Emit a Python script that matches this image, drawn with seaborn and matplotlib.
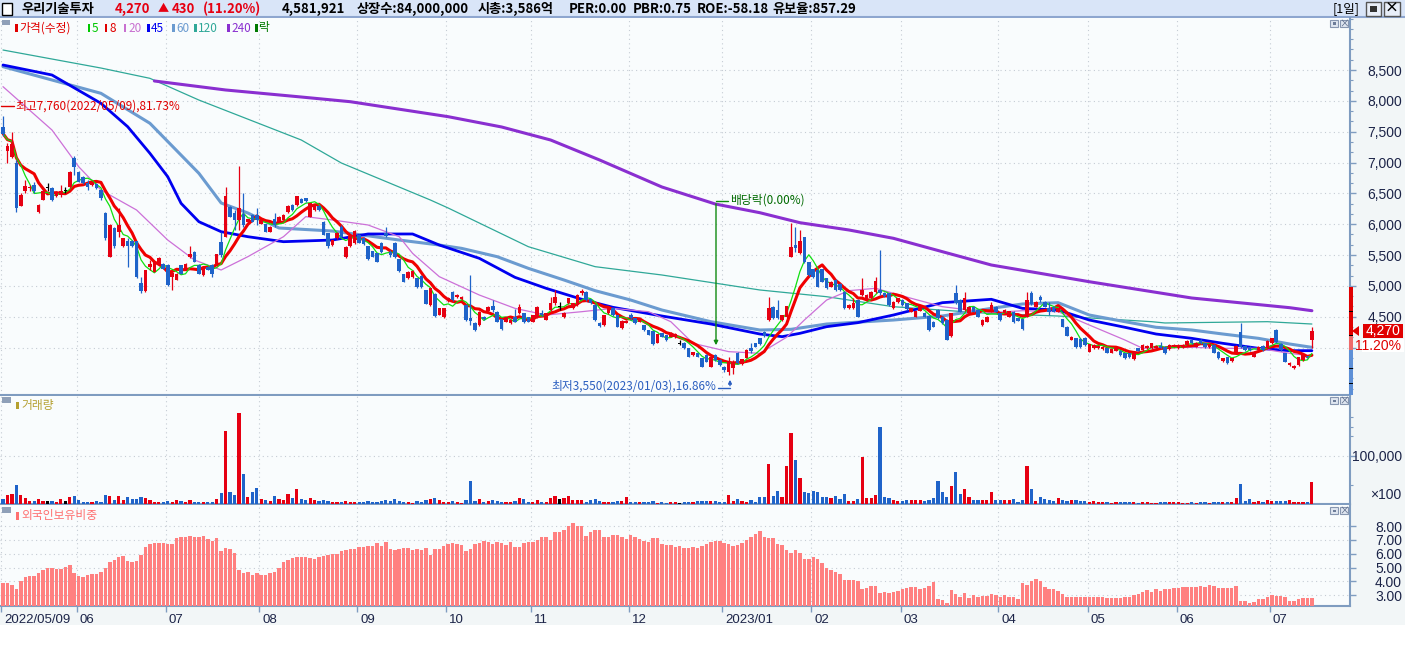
import numpy as np
import pandas as pd
import matplotlib
matplotlib.use("Agg")
import matplotlib.pyplot as plt
import matplotlib.transforms as mtransforms
from matplotlib.patches import Rectangle, Polygon
from matplotlib.ticker import AutoMinorLocator, FixedLocator
import seaborn as sns

sns.set_theme(style="white")
plt.rcParams['font.family'] = ['Noto Sans CJK KR', 'DejaVu Sans']
plt.rcParams['axes.unicode_minus'] = False

NUMFONT = ['Liberation Sans', 'DejaVu Sans']

W, H = 1405, 648

# ---------------- daily data (2022/05/09 .. 2023/07/14, trading days) ----------------
opens = [7570, 7190, 7090, 6990, 6300, 6540, 6580, 6640, 6190, 6400,
         6600, 6580, 6450, 6470, 6550, 6600, 7070, 6850, 6760, 6670,
         6640, 6650, 6550, 6180, 5470, 5930, 5880, 5640, 5720, 5720,
         5720, 5040, 4910, 5310, 5230, 5340, 5360, 5340, 5150, 5100,
         5330, 5260, 5470, 5550, 5340, 5170, 5310, 5340, 5330, 5710,
         5800, 6280, 6180, 6070, 6170, 6030, 6150, 6150, 6010, 6000,
         5880, 6090, 6040, 6070, 6190, 6310, 6310, 6410, 6420, 6120,
         6230, 6300, 6040, 5850, 5660, 5770, 5960, 5460, 5640, 5690,
         5820, 5770, 5640, 5560, 5530, 5690, 5850, 5550, 5690, 5430,
         5190, 5120, 5140, 5120, 5160, 4930, 4690, 4870, 4530, 4490,
         4770, 4905, 4815, 4780, 4690, 4475, 4405, 4365, 4500, 4590,
         4675, 4580, 4455, 4420, 4405, 4500, 4555, 4555, 4490, 4420,
         4490, 4565, 4445, 4610, 4715, 4660, 4490, 4715, 4635, 4690,
         4880, 4905, 4780, 4690, 4405, 4365, 4555, 4635, 4525, 4310,
         4405, 4525, 4475, 4420, 4365, 4285, 4270, 4080, 4230, 4205,
         4175, 4165, 4070, 4080, 3985, 3880, 3905, 3825, 3880, 3690,
         3880, 3795, 3690, 3610, 3660, 3915, 3735, 3835, 3985, 4070,
         4150, 4255, 4445, 4660, 4610, 4445, 4490, 5470, 5660, 5530,
         5790, 5380, 5270, 5260, 5270, 5120, 4985, 5090, 5030, 4905,
         4635, 4635, 4770, 4850, 4770, 4795, 4905, 4930, 4890, 4880,
         4635, 4745, 4770, 4715, 4580, 4500, 4595, 4565, 4510, 4420,
         4610, 4500, 4445, 4185, 4880, 4770, 4610, 4555, 4660, 4610,
         4365, 4420, 4580, 4660, 4555, 4555, 4500, 4580, 4475, 4455,
         4500, 4890, 4660, 4825, 4745, 4635, 4660, 4580, 4455, 4340,
         4130, 4150, 4145, 4150, 3930, 3985, 3985, 3970, 3985, 3915,
         3950, 3945, 3905, 3905, 3820, 3985, 3960, 3985, 3985, 3985,
         4025, 4015, 3970, 4015, 3985, 4005, 4040, 4120, 4015, 4130,
         4070, 4005, 4040, 3930, 3785, 3840, 3785, 3930, 4250, 4025,
         4015, 3850, 3960, 4025, 3985, 4070, 4285, 4055, 3905, 3715,
         3660, 3715, 3795, 3860, 4130]
highs = [7760, 7310, 7500, 7040, 6500, 6720, 6640, 6690, 6320, 6580,
         6670, 6600, 6530, 6630, 6610, 6870, 7100, 6870, 6780, 6720,
         6700, 6670, 6560, 6190, 6000, 5950, 6260, 5780, 5770, 5740,
         5730, 5150, 5260, 5420, 5400, 5460, 5370, 5350, 5220, 5210,
         5340, 5370, 5640, 5560, 5350, 5320, 5320, 5350, 5520, 5880,
         6600, 6290, 6230, 6940, 6500, 6090, 6160, 6260, 6080, 6010,
         5970, 6175, 6130, 6160, 6310, 6320, 6460, 6420, 6430, 6350,
         6320, 6310, 6050, 5860, 5750, 5870, 5985, 5640, 5820, 5900,
         5840, 5800, 5650, 5570, 5540, 5715, 5950, 5580, 5715, 5440,
         5200, 5240, 5250, 5130, 5170, 4940, 4970, 4880, 4640, 4645,
         4825, 4920, 4870, 4840, 4700, 5175, 4410, 4590, 4510, 4670,
         4770, 4590, 4465, 4495, 4455, 4620, 4705, 4565, 4500, 4535,
         4670, 4610, 4565, 4825, 4935, 4745, 4575, 4805, 4725, 4860,
         4945, 4915, 4790, 4700, 4410, 4535, 4660, 4645, 4535, 4445,
         4445, 4555, 4480, 4480, 4370, 4290, 4275, 4225, 4240, 4210,
         4250, 4230, 4120, 4090, 3995, 3935, 3915, 3835, 3890, 3860,
         3890, 3810, 3700, 3850, 3795, 3930, 3820, 3970, 4070, 4080,
         4160, 4270, 4825, 4675, 4770, 4535, 4680, 6015, 5960, 5905,
         5800, 5390, 5280, 5270, 5280, 5135, 5080, 5105, 5040, 4915,
         4700, 4795, 4780, 5120, 4860, 4915, 5150, 5580, 4900, 4890,
         4755, 4810, 4780, 4725, 4645, 4600, 4685, 4575, 4520, 4430,
         4620, 4510, 4455, 4565, 5015, 4780, 4905, 4675, 4675, 4620,
         4455, 4510, 4745, 4675, 4565, 4620, 4600, 4590, 4485, 4470,
         4905, 4920, 4755, 4850, 4755, 4745, 4675, 4645, 4470, 4350,
         4185, 4160, 4155, 4175, 4065, 4050, 4035, 4025, 3995, 3980,
         3995, 3955, 3915, 3915, 3940, 3995, 4050, 4035, 4080, 4035,
         4095, 4025, 4050, 4050, 4050, 4050, 4120, 4130, 4090, 4145,
         4080, 4065, 4050, 3940, 3835, 3850, 3835, 4035, 4390, 4035,
         4025, 3940, 4025, 4035, 4120, 4160, 4295, 4070, 3915, 3770,
         3710, 3850, 3890, 3870, 4330]
lows = [7430, 6990, 7070, 6200, 6290, 6500, 6530, 6500, 6180, 6390,
        6530, 6380, 6440, 6440, 6500, 6580, 6800, 6680, 6650, 6550,
        6620, 6570, 6400, 5750, 5460, 5620, 5800, 5630, 5310, 5630,
        5130, 4890, 4900, 5260, 5220, 5330, 5270, 5000, 4930, 5090,
        5190, 5250, 5450, 5380, 5190, 5160, 5250, 5140, 5320, 5470,
        5790, 6110, 5900, 5900, 5960, 6020, 6030, 5990, 6000, 5870,
        5870, 5960, 6030, 6060, 6180, 6220, 6300, 6340, 6360, 6110,
        6220, 6220, 5820, 5620, 5650, 5760, 5785, 5450, 5625, 5680,
        5690, 5670, 5420, 5460, 5380, 5540, 5795, 5475, 5445, 5230,
        5060, 5110, 5130, 4965, 4960, 4700, 4680, 4500, 4520, 4480,
        4745, 4760, 4800, 4770, 4430, 4365, 4270, 4355, 4450, 4585,
        4580, 4410, 4290, 4410, 4380, 4410, 4545, 4400, 4410, 4410,
        4480, 4515, 4440, 4600, 4690, 4610, 4480, 4705, 4625, 4680,
        4850, 4760, 4705, 4435, 4340, 4355, 4545, 4515, 4325, 4300,
        4395, 4445, 4385, 4410, 4275, 4195, 4045, 4070, 4165, 4110,
        4165, 4155, 4040, 3975, 3840, 3870, 3840, 3680, 3760, 3680,
        3785, 3705, 3610, 3550, 3570, 3730, 3720, 3825, 3905, 4005,
        4045, 4175, 4430, 4460, 4455, 4435, 4480, 5460, 5555, 5515,
        5365, 5165, 5125, 4975, 5055, 4950, 4975, 4920, 4920, 4620,
        4625, 4625, 4490, 4840, 4760, 4785, 4880, 4850, 4825, 4675,
        4625, 4730, 4675, 4605, 4570, 4490, 4585, 4490, 4270, 4325,
        4460, 4380, 4120, 4175, 4705, 4570, 4595, 4545, 4570, 4490,
        4355, 4410, 4570, 4570, 4435, 4545, 4490, 4405, 4425, 4285,
        4490, 4695, 4650, 4745, 4650, 4525, 4570, 4570, 4325, 4180,
        4120, 3990, 3990, 4025, 3920, 3975, 3975, 3960, 3905, 3905,
        3940, 3865, 3810, 3830, 3805, 3940, 3950, 3975, 3975, 3975,
        3975, 3895, 3960, 4005, 3975, 3995, 4030, 4055, 4005, 4065,
        3990, 3990, 3905, 3810, 3770, 3740, 3770, 3920, 3985, 3945,
        3945, 3840, 3945, 3945, 3975, 4055, 4080, 3945, 3760, 3700,
        3650, 3705, 3785, 3830, 3990]
closes = [7470, 7270, 7300, 6270, 6470, 6620, 6600, 6530, 6310, 6530,
          6600, 6390, 6510, 6530, 6550, 6850, 6930, 6690, 6660, 6600,
          6690, 6580, 6420, 5770, 5990, 5640, 5990, 5770, 5640, 5640,
          5150, 4910, 5250, 5360, 5390, 5450, 5280, 5010, 5210, 5200,
          5200, 5360, 5510, 5390, 5200, 5310, 5260, 5200, 5510, 5500,
          6450, 6120, 6070, 6260, 5990, 6080, 6040, 6070, 6070, 5880,
          5960, 5990, 6120, 6150, 6300, 6230, 6450, 6350, 6370, 6340,
          6310, 6230, 5830, 5640, 5740, 5860, 5800, 5635, 5810, 5890,
          5700, 5680, 5430, 5470, 5390, 5555, 5810, 5500, 5460, 5245,
          5070, 5230, 5240, 4975, 4975, 4705, 4960, 4515, 4635, 4635,
          4795, 4770, 4850, 4825, 4445, 4435, 4285, 4580, 4455, 4660,
          4610, 4420, 4300, 4490, 4445, 4420, 4660, 4410, 4420, 4525,
          4660, 4525, 4555, 4715, 4815, 4660, 4565, 4795, 4715, 4850,
          4915, 4770, 4715, 4445, 4350, 4525, 4650, 4525, 4340, 4435,
          4435, 4475, 4390, 4475, 4285, 4205, 4055, 4220, 4175, 4120,
          4240, 4220, 4070, 3985, 3850, 3920, 3850, 3690, 3770, 3850,
          3795, 3715, 3635, 3770, 3770, 3745, 3810, 3960, 3945, 4015,
          4055, 4185, 4635, 4475, 4475, 4525, 4675, 5630, 5610, 5720,
          5380, 5180, 5140, 4985, 5070, 4960, 5070, 4930, 4930, 4635,
          4690, 4715, 4500, 4930, 4850, 4905, 5085, 4880, 4835, 4690,
          4745, 4795, 4690, 4620, 4635, 4590, 4675, 4500, 4285, 4340,
          4475, 4390, 4130, 4555, 4715, 4580, 4795, 4660, 4580, 4500,
          4445, 4500, 4690, 4580, 4445, 4610, 4590, 4420, 4435, 4295,
          4770, 4705, 4745, 4770, 4660, 4580, 4580, 4635, 4340, 4190,
          4175, 4005, 4005, 4040, 4055, 4040, 4025, 4015, 3915, 3970,
          3985, 3880, 3825, 3840, 3930, 3950, 4040, 4025, 4070, 4025,
          3985, 3905, 4040, 4040, 4040, 4040, 4110, 4070, 4080, 4080,
          4005, 4055, 3915, 3825, 3825, 3755, 3825, 4025, 4015, 3960,
          3960, 3930, 4015, 3960, 4110, 4150, 4095, 3960, 3770, 3745,
          3700, 3840, 3880, 3840, 4270]
# volume in units of 100 shares
volume = [10400, 18600, 20700, 39300, 18600, 12400, 6200, 6200, 10400, 6200,
          6200, 6200, 4100, 10400, 6200, 14500, 16600, 8300, 4100, 4100,
          4100, 6200, 4100, 18600, 16600, 8300, 16600, 8300, 14500, 10400,
          10400, 14500, 12400, 8300, 4100, 4100, 4100, 6200, 4100, 8300,
          6200, 4100, 8300, 4100, 4100, 4100, 4100, 4100, 10400, 22800,
          151100, 24800, 18600, 188400, 62100, 14500, 24800, 33100, 10400, 8300,
          6200, 16600, 10400, 8300, 20700, 12400, 31100, 10400, 8300, 12400,
          8300, 6200, 8300, 6200, 4100, 4100, 4100, 6200, 4100, 4100,
          4100, 4100, 6200, 4100, 4100, 6200, 8300, 6200, 10400, 6200,
          4100, 4100, 2100, 6200, 4100, 8300, 10400, 12400, 8300, 4100,
          4100, 6200, 4100, 2100, 8300, 47600, 6200, 10400, 4100, 6200,
          8300, 6200, 4100, 4100, 4100, 6200, 12400, 10400, 4100, 4100,
          8300, 4100, 4100, 12400, 16600, 10400, 12400, 16600, 8300, 8300,
          8300, 4100, 8300, 10400, 6200, 4100, 4100, 4100, 6200, 6200,
          14500, 4100, 4100, 4100, 4100, 4100, 6200, 2100, 4100, 2100,
          4100, 4100, 2100, 4100, 4100, 4100, 6200,
          6200, 6200, 6200, 6200, 4100, 4100, 18600, 6200, 10400, 6200,
          4100, 8300, 4100, 14500, 14500, 82800, 16600, 26900, 14500, 78700,
          147000, 91100, 53800, 24800, 22800, 26900, 24800, 14500, 14500, 12400,
          16600, 10400, 20700, 6200, 6200, 10400, 97300, 12400, 12400, 18600,
          159400, 14500, 12400, 8300, 6200, 6200, 8300, 8300, 8300, 8300,
          6200, 8300, 12400, 47600, 24800, 14500, 37300, 66200, 20700, 31100,
          14500, 8300, 8300, 8300, 8300, 24800, 8300, 8300, 8300, 8300,
          10400, 4100, 8300, 78700,
          31100, 6200, 14500, 10400, 8300, 6200, 12400, 8300, 6200, 8300,
          8300, 6200, 6200, 4100, 6200, 4100, 4100, 4100, 2100, 4100,
          4100,
          4100, 4100, 4100, 2100, 4100, 4100, 2100, 2100, 4100, 4100,
          4100, 4100, 4100, 2100, 2100, 4100, 2100, 4100, 4100, 2100,
          4100, 4100, 4100, 4100, 4100, 12400, 41400, 6200, 10400, 4100,
          6200, 4100, 8300, 6200, 6200, 6200, 6200, 8300, 4100, 4100,
          4100, 4100, 45819]
# foreign ownership ratio (%)
foreign = [3.91, 3.91, 3.75, 3.46, 4.06, 4.35, 4.40, 4.40, 4.64, 4.83,
           4.95, 4.95, 4.90, 4.90, 5.07, 5.19, 4.64, 4.40, 4.30, 4.47,
           4.54, 4.54, 4.68, 4.97, 5.41, 5.55, 5.79, 5.86, 5.50, 5.43,
           5.50, 5.89, 6.51, 6.71, 6.80, 6.80, 6.80, 6.71, 6.71, 7.16,
           7.24, 7.24, 7.28, 7.24, 7.24, 7.31, 7.09, 6.95, 7.14, 6.23,
           6.42, 6.35, 6.03, 4.83, 4.64, 4.71, 4.47, 4.64, 4.47, 4.47,
           4.59, 4.66, 4.95, 5.38, 5.55, 5.72, 5.74, 5.79, 5.79, 5.72,
           5.65, 5.79, 5.84, 5.91, 5.98, 6.01, 6.18, 6.27, 6.37, 6.32,
           6.47, 6.51, 6.59, 6.59, 6.80, 6.59, 6.87, 6.35, 6.27, 6.35,
           6.39, 6.42, 6.27, 6.35, 6.27, 6.39, 5.91, 6.35, 6.35, 6.59,
           6.71, 6.75, 6.73, 6.63, 6.20, 6.37, 6.71, 6.80, 6.92, 6.83,
           6.71, 6.87, 6.78, 6.63, 6.87, 6.49, 6.49, 6.75, 6.83, 6.85,
           7.00, 7.24, 7.24, 7.00, 7.57, 7.60, 7.72, 8.01, 8.20, 8.03,
           8.03, 7.31, 7.55, 7.69, 7.72, 7.21, 7.21, 7.33, 7.33, 7.24,
           7.04, 7.36, 7.24, 7.04, 6.95, 6.87, 7.14, 7.14, 6.68, 6.63,
           6.63, 6.51, 6.59, 6.42, 6.39, 6.47, 6.42,
           6.56, 6.71, 6.87, 6.92, 6.92, 6.80, 6.71, 6.59, 6.63, 6.75,
           7.00, 7.24, 7.43, 7.65, 7.24, 7.16, 7.16, 6.71, 6.63, 6.27,
           6.03, 6.27, 6.03, 5.65, 5.65, 5.79, 5.65, 5.31, 5.00, 4.83,
           4.71, 4.54, 4.11, 4.11, 4.11, 4.03, 3.46, 3.55, 3.67, 3.67,
           3.19, 3.26, 3.19, 3.26, 3.31, 3.43, 3.55, 3.63, 3.58, 3.46,
           3.53, 3.70, 3.96, 2.74, 2.66, 2.42, 3.39, 3.10, 2.88, 3.14,
           2.78, 3.02, 2.90, 2.95, 2.95, 3.10, 3.02, 2.90, 3.02, 2.90,
           2.90, 2.71, 3.91, 3.72, 4.06, 4.18, 4.06, 3.63, 3.46, 3.46,
           3.34, 3.10, 2.90, 2.90, 2.90, 2.90, 2.90, 2.90, 2.90, 2.90,
           2.86, 2.78, 2.78, 2.78, 2.82,
           2.86, 2.86, 3.02, 3.10, 3.26, 3.39, 3.26, 3.43, 3.34, 3.46,
           3.48, 3.53, 3.53, 3.58, 3.58, 3.63, 3.63, 3.67, 3.63, 3.75,
           3.67, 3.51, 3.51, 3.51, 3.51, 3.67, 2.61, 2.61, 2.42, 2.54,
           2.71, 2.71, 2.90, 3.02, 2.98, 2.98, 2.90, 2.61, 2.61, 2.71,
           2.78, 2.78, 2.78]

# longer moving averages (day index, value)
ma20_days = [0, 11, 17, 22, 30, 37, 43, 49, 55, 63, 68, 74, 82, 89, 92, 98, 107, 115, 122, 130,
             137, 145, 150, 155, 163, 170, 176, 180, 185, 190, 196, 204, 211, 222, 229, 237, 244,
             252, 256, 267, 274, 282, 289, 294]
ma20_vals = [8230, 7527, 6932, 6554, 6230, 5743, 5419, 5257, 5473, 5797, 6122, 6068, 5987, 5797,
             5527, 5149, 4851, 4635, 4527, 4581, 4635, 4581, 4419, 4068, 3933, 3906, 4166, 4446,
             4770, 4922, 4960, 4798, 4662, 4565, 4597, 4581, 4365, 4122, 3987, 4003, 3987, 3987,
             3906, 3862]
ma45_days = [0, 11, 22, 28, 33, 37, 40, 44, 49, 55, 63, 74, 82, 92, 98, 107, 115, 122, 130, 137,
             148, 159, 170, 175, 179, 185, 192, 200, 208, 211, 222, 229, 237, 244, 252, 259, 267,
             274, 282, 289, 294]
ma45_vals = [8581, 8419, 7960, 7581, 7149, 6770, 6338, 6040, 5878, 5797, 5716, 5743, 5841, 5841,
             5662, 5446, 5138, 4960, 4782, 4652, 4511, 4381, 4219, 4176, 4230, 4338, 4403, 4527,
             4673, 4727, 4782, 4635, 4608, 4446, 4328, 4219, 4149, 4068, 3987, 3949, 3949]
ma60_days = [0, 22, 33, 44, 49, 55, 62, 74, 89, 98, 103, 111, 118, 126, 133, 141, 148, 159, 170,
             177, 185, 200, 211, 222, 229, 237, 244, 252, 259, 267, 274, 282, 289, 294]
ma60_vals = [8554, 8122, 7636, 6825, 6344, 6181, 5938, 5889, 5743, 5662, 5608, 5473, 5284, 5095,
             4922, 4770, 4608, 4419, 4284, 4295, 4381, 4446, 4511, 4635, 4706, 4727, 4527, 4419,
             4328, 4284, 4219, 4149, 4057, 4003]
ma120_days = [0, 22, 33, 44, 67, 76, 96, 100, 118, 133, 148, 170, 185, 200, 222, 237, 258, 261,
              284, 294]
ma120_vals = [8824, 8532, 8365, 8013, 7365, 6992, 6392, 6262, 5635, 5311, 5176, 4933, 4824, 4662,
              4550, 4511, 4419, 4398, 4419, 4381]
ma240_days = [34, 50, 67, 78, 100, 112, 123, 134, 148, 160, 170, 179, 190, 200, 211, 222, 244, 267,
              289, 294]
ma240_vals = [8322, 8176, 8062, 7986, 7743, 7576, 7365, 7041, 6603, 6327, 6186, 6024, 5906, 5771,
              5554, 5338, 5067, 4803, 4646, 4597]

month_idx = [0, 17, 37, 58, 80, 100, 119, 141, 162, 182, 202, 224, 244, 264, 285]
month_lbl = ['2022/05/09', '06', '07', '08', '09', '10', '11', '12',
             '2023/01', '02', '03', '04', '05', '06', '07']
price_ticks = [4000, 4500, 5000, 5500, 6000, 6500, 7000, 7500, 8000, 8500]
foreign_ticks = [3, 4, 5, 6, 7, 8]

df = pd.DataFrame({'i': np.arange(len(closes)), 'open': opens, 'high': highs,
                   'low': lows, 'close': closes, 'volume': volume, 'foreign': foreign})
df['ma5'] = df['close'].rolling(5, min_periods=1).mean()
df['ma8'] = df['close'].rolling(8, min_periods=1).mean()

# ---------------- styling ----------------
RED = '#e60012'
BLUE = '#1f63c9'
PLOT_BG = '#f9fcfd'
SIDE_BG = '#f2f6f7'
SPINE = '#7f9cc0'
GRID = '#c5ccd4'
TXT = '#1c2448'
HEAD_BG = '#d9e5f8'


def rect(x0, y0, x1, y1):
    return [x0 / W, 1 - y1 / H, (x1 - x0) / W, (y1 - y0) / H]


def px2i(x):
    return (x - 3) / 4.452


def py2p(y):
    return 8500 - (y - 70) * 16.215


def ftext(x, y, s, **kw):
    kw.setdefault('va', 'center')
    return fig.text(x / W, 1 - y / H, s, **kw)


def fbox(x0, y0, x1, y1, **kw):
    fig.add_artist(Rectangle((x0 / W, 1 - y1 / H), (x1 - x0) / W, (y1 - y0) / H,
                             transform=fig.transFigure, **kw))


XL = (px2i(0), px2i(1350))
cols = ['black' if o == c else (RED if c > o else BLUE) for o, c in zip(opens, closes)]

fig = plt.figure(figsize=(W / 100, H / 100), dpi=100)
fig.patch.set_facecolor('white')
fbox(1350, 17, 1405, 625, facecolor=SIDE_BG, edgecolor='none', zorder=0)
fbox(0, 606, 1350, 625, facecolor=SIDE_BG, edgecolor='none', zorder=0)

# ---------------- header ----------------
ax_h = fig.add_axes(rect(0, 0, W, 17))
ax_h.set_facecolor(HEAD_BG)
ax_h.set_xticks([])
ax_h.set_yticks([])
for s in ax_h.spines.values():
    s.set_visible(False)
ax_h.spines['bottom'].set_visible(True)
ax_h.spines['bottom'].set_color('#8ea6cf')
ax_h.spines['bottom'].set_linewidth(1.5)

fbox(2, 3, 12, 15, facecolor='white', edgecolor='black', linewidth=1, zorder=5)
hk = dict(fontsize=9.5, fontweight='bold', zorder=6)
last, prev = closes[-1], closes[-2]
ftext(21, 9, '우리기술투자', color='black', **hk)
ftext(115, 9, f'{last:,}', color=RED, **hk)
ftext(158, 9, '▲', color=RED, fontsize=8, zorder=6)
ftext(172, 9, f'{last - prev:,}', color=RED, **hk)
ftext(203, 9, f'({(last - prev) / prev * 100:.2f}%)', color=RED, **hk)
ftext(282, 9, '4,581,921', color='black', **hk)
ftext(357, 9, '상장수:84,000,000', color='black', **hk)
ftext(478, 9, '시총:3,586억', color='black', **hk)
ftext(569, 9, 'PER:0.00', color='black', **hk)
ftext(633, 9, 'PBR:0.75', color='black', **hk)
ftext(697, 9, 'ROE:-58.18', color='black', **hk)
ftext(772, 9, '유보율:857.29', color='black', **hk)
ftext(1333, 9, '[1일]', color='black', fontsize=9, zorder=6)
fbox(1366, 2, 1381, 16, facecolor='#e8eef8', edgecolor='#555555', linewidth=1, zorder=5)
fbox(1370, 6, 1377, 12, facecolor='#333333', edgecolor='none', zorder=6)
fbox(1384, 2, 1400, 16, facecolor='#e8eef8', edgecolor='#555555', linewidth=1, zorder=5)
ftext(1392, 9, '×', color='black', fontsize=10, fontweight='bold', ha='center', zorder=6)


def panel_buttons(y):
    fbox(1330, y, 1338, y + 7, facecolor='#dfe6f0', edgecolor='#8796b0', linewidth=0.8, zorder=6)
    fbox(1332.5, y + 2.5, 1335.5, y + 4.5, facecolor='#6d7c98', edgecolor='none', zorder=7)
    fbox(1340, y, 1348, y + 7, facecolor='#dfe6f0', edgecolor='#8796b0', linewidth=0.8, zorder=6)
    ftext(1344, y + 3.5, '×', color='#5a6a88', fontsize=7, ha='center', zorder=7)


def style_axes(ax):
    ax.set_facecolor(PLOT_BG)
    ax.set_xlim(XL)
    for k in ['left', 'top']:
        ax.spines[k].set_visible(False)
    for k in ['right', 'bottom']:
        ax.spines[k].set_color(SPINE)
        ax.spines[k].set_linewidth(1.5)
    ax.yaxis.tick_right()
    ax.tick_params(axis='y', which='major', direction='out', length=4.5, width=1,
                   color=SPINE, labelsize=10, labelcolor=TXT, pad=33, right=True, left=False)
    ax.tick_params(axis='y', which='minor', direction='out', length=2.5, width=0.8,
                   color=SPINE, right=True, left=False)
    for m in month_idx:
        ax.axvline(m - 0.4, color=GRID, lw=0.8, ls=(0, (1, 3)), zorder=1)


def right_labels(ax):
    for lab in ax.get_yticklabels():
        lab.set_horizontalalignment('right')
        lab.set_fontfamily(NUMFONT)


# ---------------- price panel ----------------
ax = fig.add_axes(rect(0, 18, 1350, 395))
style_axes(ax)
ax.set_ylim(py2p(395), py2p(18))
for v in price_ticks:
    ax.axhline(v, color=GRID, lw=0.8, ls=(0, (1, 3)), zorder=1)

ma_kw = dict(ax=ax, legend=False, estimator=None, sort=False, zorder=2)
sns.lineplot(x=ma120_days, y=ma120_vals, color='#2fa898', linewidth=0.9, **ma_kw)
sns.lineplot(x=ma240_days, y=ma240_vals, color='#8a2fd0', linewidth=2.2, **ma_kw)
sns.lineplot(x=ma60_days, y=ma60_vals, color='#6b9bd0', linewidth=2.2, **ma_kw)
sns.lineplot(x=ma45_days, y=ma45_vals, color='#0000f0', linewidth=2.0, **ma_kw)
sns.lineplot(x=ma20_days, y=ma20_vals, color='#cc70d8', linewidth=0.9, **ma_kw)
sns.lineplot(data=df, x='i', y='ma8', color='#f00000', linewidth=2.2, **ma_kw)
sns.lineplot(data=df, x='i', y='ma5', color='#10e010', linewidth=0.9, **ma_kw)
ax.set_xlabel('')
ax.set_ylabel('')

body_low = np.minimum(opens, closes)
body_h = np.maximum(np.abs(np.subtract(closes, opens)), 16)
body_low = np.where(np.array(opens) == np.array(closes), body_low - 8, body_low)
ax.vlines(df['i'], lows, highs, colors=cols, linewidth=0.9, zorder=3)
ax.bar(df['i'], body_h, bottom=body_low, width=0.8, color=cols, linewidth=0, zorder=3)

ax.set_xlim(XL)
ax.set_ylim(py2p(395), py2p(18))
ax.set_yticks(price_ticks)
# the 4,000 label sits under the change-rate tag on the reference
ax.set_yticklabels(['' if v == 4000 else f'{v:,}' for v in price_ticks])
ax.yaxis.set_minor_locator(AutoMinorLocator(3))
ax.set_xticks([])
right_labels(ax)

# legend row
fbox(2, 20, 10, 25, facecolor='#8fa0b8', edgecolor='none', zorder=6)
legend_items = [(15, '가격(수정)', '#e00000'), (88, '5', '#00c800'), (105, '8', '#e00000'),
                (124, '20', '#c870d0'), (147, '45', '#0000f0'), (172, '60', '#6b9bd0'),
                (194, '120', '#2fa898'), (227, '240', '#8a2fd0'), (255, '락', '#007a00')]
for x0, lab, c in legend_items:
    fbox(x0, 24, x0 + 2.5, 32, facecolor=c, edgecolor='none', zorder=6)
    ftext(x0 + 4, 28, lab, color=c, fontsize=8.5, zorder=6)
panel_buttons(20)

# high / low / ex-dividend annotations
hi_i = int(np.argmax(highs))
lo_i = int(np.argmin(lows))
ax.plot([px2i(1), px2i(14)], [py2p(106)] * 2, color='#e00000', lw=1, zorder=5)
ax.text(px2i(15), py2p(106), f'최고{highs[hi_i]:,}(2022/05/09),81.73%', color='#e00000',
        fontsize=8.5, va='center', ha='left', zorder=5)
ax.text(px2i(716), py2p(386), f'최저{lows[lo_i]:,}(2023/01/03),16.86%', color='#2c5fc0',
        fontsize=8.5, va='center', ha='right', zorder=5)
ax.plot([px2i(718), px2i(730)], [py2p(388)] * 2, color='#2c5fc0', lw=1, zorder=5)
ax.annotate('', xy=(px2i(730), py2p(377)), xytext=(px2i(730), py2p(388.5)),
            arrowprops=dict(arrowstyle='-|>', color='#2c5fc0', lw=1, mutation_scale=5), zorder=5)
ax.plot([px2i(716), px2i(728)], [py2p(201)] * 2, color='#108a10', lw=1, zorder=5)
ax.annotate('', xy=(px2i(716), py2p(348)), xytext=(px2i(716), py2p(201)),
            arrowprops=dict(arrowstyle='-|>', color='#108a10', lw=1, mutation_scale=6), zorder=5)
ax.text(px2i(730), py2p(200), '배당락(0.00%)', color='#006a00', fontsize=8.5,
        va='center', ha='left', zorder=5)

# side range bar and current price tag
fbox(1349, 287, 1352.5, 335, facecolor='#e00000', edgecolor='none', zorder=6)
fbox(1349, 335, 1352.5, 350, facecolor='#ee6a6a', edgecolor='none', zorder=6)
fbox(1349, 350, 1352.5, 395, facecolor='#5d8fd6', edgecolor='none', zorder=6)
for yy in [311.7, 335, 368.3, 383.3]:
    fbox(1349, yy - 0.5, 1352.5, yy + 0.5, facecolor='black', edgecolor='none', zorder=7)
fbox(1363, 324, 1403, 338, facecolor='#e00000', edgecolor='none', zorder=8)
fig.add_artist(Polygon([(1352 / W, 1 - 331 / H), (1359 / W, 1 - 326 / H), (1359 / W, 1 - 336 / H)],
                       closed=True, transform=fig.transFigure, facecolor='#e00000',
                       edgecolor='none', zorder=8))
ftext(1401, 331, f'{last:,}', color='white', fontsize=10, ha='right', family=NUMFONT, zorder=9)
fbox(1362, 339, 1404, 352, facecolor='white', edgecolor='none', zorder=8)
ftext(1401, 345.5, f'{(last - prev) / prev * 100:.2f}%', color='#e00000', fontsize=10,
      ha='right', family=NUMFONT, zorder=9)

# ---------------- volume panel ----------------
ax_v = fig.add_axes(rect(0, 396, 1350, 504))
style_axes(ax_v)
ax_v.set_ylim(0, 223600)
ax_v.axhline(100000, color=GRID, lw=0.8, ls=(0, (1, 3)), zorder=1)
ax_v.bar(df['i'], df['volume'], width=0.72, color=cols, linewidth=0, zorder=3)
ax_v.set_yticks([100000])
ax_v.set_yticklabels(['100,000'])
ax_v.yaxis.set_minor_locator(FixedLocator([40000, 140000, 160000, 180000]))
ax_v.set_xticks([])
right_labels(ax_v)
ftext(1401, 495, '×100', color=TXT, fontsize=10, ha='right', family=NUMFONT)
fbox(2, 397, 11, 403, facecolor='#8fa0b8', edgecolor='none', zorder=6)
fbox(16, 402, 18.5, 409, facecolor='#b5a030', edgecolor='none', zorder=6)
ftext(21, 406, '거래량', color='#b5a030', fontsize=8.5, zorder=6)
panel_buttons(397)

# ---------------- foreign ownership panel ----------------
ax_f = fig.add_axes(rect(0, 505, 1350, 606))
style_axes(ax_f)
ax_f.set_ylim(2.227, 9.52)
for v in foreign_ticks:
    ax_f.axhline(v, color=GRID, lw=0.8, ls=(0, (1, 3)), zorder=1)
ax_f.bar(df['i'], df['foreign'], width=0.78, color='#ff8080', linewidth=0, zorder=3)
ax_f.set_yticks(foreign_ticks)
ax_f.set_yticklabels([f'{v:.2f}' for v in foreign_ticks])
right_labels(ax_f)
ax_f.set_xticks([m - 0.4 for m in month_idx])
ax_f.set_xticklabels(month_lbl)
ax_f.tick_params(axis='x', which='major', direction='out', length=4, width=1, color=SPINE,
                 labelsize=9.5, labelcolor=TXT, pad=1.5, bottom=True)
shift = mtransforms.ScaledTranslation(2 / 72, 0, fig.dpi_scale_trans)
for lab in ax_f.get_xticklabels():
    lab.set_horizontalalignment('left')
    lab.set_fontfamily(NUMFONT)
    lab.set_transform(lab.get_transform() + shift)
fbox(2, 507, 11, 513, facecolor='#8fa0b8', edgecolor='none', zorder=6)
fbox(16, 512, 18.5, 520, facecolor='#ff7070', edgecolor='none', zorder=6)
ftext(21, 516, '외국인보유비중', color='#ff7070', fontsize=8.5, zorder=6)
panel_buttons(507)

fig.savefig('out.png', dpi=100, facecolor=fig.get_facecolor())
